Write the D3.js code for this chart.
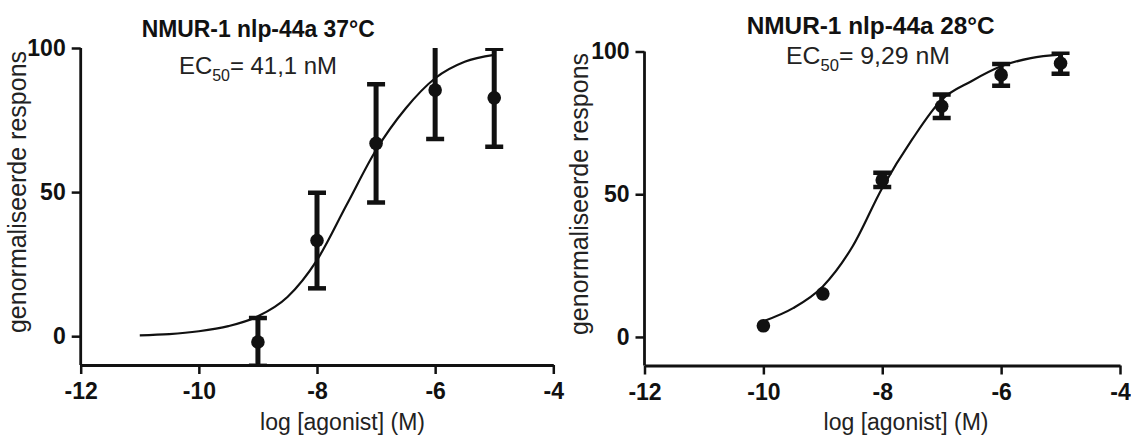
<!DOCTYPE html>
<html>
<head>
<meta charset="utf-8">
<script src="https://cdn.jsdelivr.net/npm/d3@7"></script>
<style>
  body { margin: 0; background: #fff; }
  svg { display: block; font-family: "Liberation Sans", Arial, sans-serif; }
  .axis path, .axis line { stroke: #111; }
  .axis text { font-weight: bold; font-size: 23px; fill: #111; }
</style>
</head>
<body>
<svg id="chart" width="1131" height="435"></svg>
<script>
// Tick labels
const xTicks = [-12, -10, -8, -6, -4];
const yTicks = [0, 50, 100];

// 37°C data (log M, mean, SEM)
const dose37 = [-9, -8, -7, -6, -5];
const resp37 = [-2.0, 33.2, 66.9, 85.4, 82.7];
const sem37 = [8.3, 16.6, 20.5, 17.0, 17.0];
// fitted curve
const fitX37 = [-11, -10.5, -10, -9.5, -9, -8.5, -8, -7.5, -7, -6.5, -6, -5.5, -5];
const fitY37 = [0.3, 0.7, 1.7, 3.5, 6.9, 13.6, 26.4, 45.5, 64.6, 79.0, 89.5, 95.2, 97.6];

// 28°C data
const dose28 = [-10, -9, -8, -7, -6, -5];
const resp28 = [3.9, 15.1, 55.0, 80.8, 91.8, 95.9];
const sem28 = [0, 0, 2.5, 4.1, 3.8, 3.7];
const fitX28 = [-10, -9.5, -9, -8.5, -8, -7.5, -7, -6.5, -6, -5.5, -5];
const fitY28 = [5.5, 10.1, 17.7, 31.7, 52.2, 69.1, 83.1, 89.6, 94.8, 97.7, 98.9];

const panels = [
  { title: "NMUR-1 nlp-44a 37°C", ec: "41,1 nM",
    dose: dose37, resp: resp37, sem: sem37, fitX: fitX37, fitY: fitY37,
    x0: 80.7, x1: 553.3, yTop: 48, yBot: 365,
    titleX: 141.7, titleW: 233, titleY: 37,
    ecX: 179, ecW: 158, ecY: 74,
    xLabX: 342.5, yLabX: 26, yLabY: 192 },
  { title: "NMUR-1 nlp-44a 28°C", ec: "9,29 nM",
    dose: dose28, resp: resp28, sem: sem28, fitX: fitX28, fitY: fitY28,
    x0: 644.5, x1: 1120, yTop: 51.5, yBot: 365.5,
    titleX: 746.7, titleW: 248, titleY: 33.5,
    ecX: 786, ecW: 164, ecY: 64,
    xLabX: 906, yLabX: 588, yLabY: 194 }
];

const svg = d3.select("#chart");

panels.forEach((p, i) => {
  const x = d3.scaleLinear().domain([-12, -4]).range([p.x0, p.x1]);
  const y = d3.scaleLinear().domain([-10, 100]).range([p.yBot, p.yTop]);

  const g = svg.append("g");

  svg.append("clipPath").attr("id", "clip" + i)
    .append("rect")
    .attr("x", p.x0).attr("y", p.yTop)
    .attr("width", p.x1 - p.x0).attr("height", p.yBot - p.yTop);

  // Axes
  g.append("g")
    .attr("class", "axis")
    .attr("transform", `translate(0,${p.yBot})`)
    .call(d3.axisBottom(x).tickValues(xTicks).tickFormat(d => String(d))
      .tickSize(9).tickSizeOuter(0).tickPadding(9))
    .call(a => a.select(".domain").attr("stroke-width", 2.8))
    .call(a => a.selectAll(".tick line").attr("stroke-width", 2.5));

  g.append("g")
    .attr("class", "axis")
    .attr("transform", `translate(${p.x0},0)`)
    .call(d3.axisLeft(y).tickValues(yTicks).tickFormat(d => String(d))
      .tickSize(9).tickSizeOuter(0).tickPadding(6))
    .call(a => a.select(".domain").attr("d", `M0,${p.yTop}V${p.yBot}`).attr("stroke-width", 2.8))
    .call(a => a.selectAll(".tick line").attr("stroke-width", 2.5));

  const plot = g.append("g").attr("clip-path", `url(#clip${i})`);

  // Fitted curve
  const fit = p.fitX.map((v, j) => ({ x: v, y: p.fitY[j] }));
  plot.append("path")
    .datum(fit)
    .attr("fill", "none")
    .attr("stroke", "#111")
    .attr("stroke-width", 2.2)
    .attr("d", d3.line().x(d => x(d.x)).y(d => y(d.y)).curve(d3.curveMonotoneX));

  // Error bars and points
  const pts = p.dose.map((v, j) => ({ x: v, y: p.resp[j], e: p.sem[j] }));
  const capW = 9;
  const eb = plot.selectAll(".eb").data(pts.filter(d => d.e > 0)).join("g").attr("class", "eb");
  eb.append("line")
    .attr("x1", d => x(d.x)).attr("x2", d => x(d.x))
    .attr("y1", d => y(d.y + d.e)).attr("y2", d => y(d.y - d.e))
    .attr("stroke", "#111").attr("stroke-width", 5);
  eb.append("line")
    .attr("x1", d => x(d.x) - capW).attr("x2", d => x(d.x) + capW)
    .attr("y1", d => y(d.y + d.e)).attr("y2", d => y(d.y + d.e))
    .attr("stroke", "#111").attr("stroke-width", 4.5);
  eb.append("line")
    .attr("x1", d => x(d.x) - capW).attr("x2", d => x(d.x) + capW)
    .attr("y1", d => y(d.y - d.e)).attr("y2", d => y(d.y - d.e))
    .attr("stroke", "#111").attr("stroke-width", 4.5);
  plot.selectAll(".pt").data(pts).join("circle")
    .attr("class", "pt")
    .attr("cx", d => x(d.x)).attr("cy", d => y(d.y))
    .attr("r", 6.8).attr("fill", "#111");

  // Title
  g.append("text")
    .attr("x", p.titleX).attr("y", p.titleY)
    .attr("textLength", p.titleW).attr("lengthAdjust", "spacingAndGlyphs")
    .style("font-size", "23px").style("font-weight", "bold").style("fill", "#111")
    .text(p.title);

  // EC50 line
  const ec = g.append("text")
    .attr("x", p.ecX).attr("y", p.ecY)
    .attr("textLength", p.ecW).attr("lengthAdjust", "spacingAndGlyphs")
    .style("font-size", "24px").style("fill", "#222");
  ec.append("tspan").text("EC");
  ec.append("tspan").attr("dy", 7).style("font-size", "16px").text("50");
  ec.append("tspan").attr("dy", -7).text("= " + p.ec);

  // Axis titles
  g.append("text")
    .attr("x", p.xLabX).attr("y", 430)
    .attr("text-anchor", "middle")
    .style("font-size", "23px").style("fill", "#222")
    .text("log [agonist] (M)");

  g.append("text")
    .attr("transform", `translate(${p.yLabX},${p.yLabY}) rotate(-90)`)
    .attr("text-anchor", "middle")
    .style("font-size", "25px").style("fill", "#222")
    .text("genormaliseerde respons");
});
</script>
</body>
</html>
